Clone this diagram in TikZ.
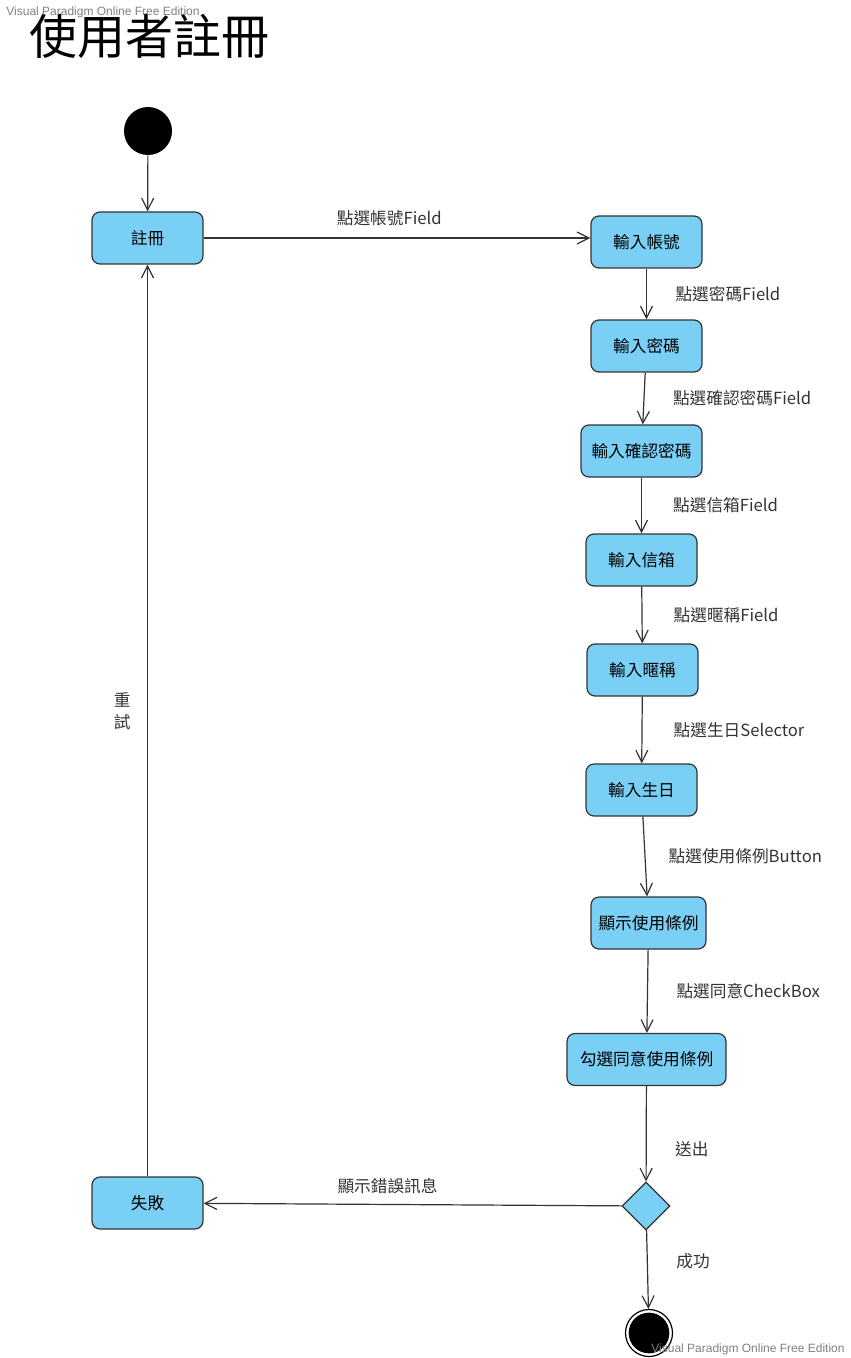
\documentclass[tikz,border=0pt]{standalone}
\usepackage{fontspec}
\setmainfont{Noto Sans CJK TC}
\newfontfamily\wmfont{Liberation Sans}
\usetikzlibrary{arrows.meta, positioning, shapes.geometric}
\definecolor{actfill}{RGB}{122,207,245}
\definecolor{actline}{RGB}{51,51,51}
\tikzset{%
	act/.style={draw=actline, fill=actfill, rectangle, rounded corners=6pt,%
		minimum width=83.25pt, minimum height=39pt, inner sep=0pt, line width=0.9pt,%
		font=\fontsize{12.5}{15}\selectfont},
	startdot/.style={circle, fill=black, minimum size=36pt, inner sep=0pt},
	enddot/.style={circle, draw=black, line width=0.9pt, minimum size=35.25pt, inner sep=0pt,%
		path picture={\fill[black] (path picture bounding box.center) circle (15.25pt);}},
	decision/.style={draw=actline, fill=actfill, diamond, minimum size=36pt, inner sep=0pt, line width=0.9pt},
	trans/.style={-{Straight Barb[length=9pt,width=9pt]}, line width=0.9pt, draw=actline},
	lbl/.style={font=\fontsize{12.5}{15}\selectfont, text=actline},
	watermark/.style={font=\wmfont\fontsize{9}{10}\selectfont, text=gray}
}
\begin{document}
\begin{tikzpicture}[x=0.75pt, y=-0.75pt]
	\useasboundingbox (0,0) rectangle (850,1358);

	\node[anchor=west, inner sep=0pt, font=\fontsize{36}{40}\selectfont] (title) at (29,36) {使用者註冊};
	\node[watermark] (wmtop) at (103,12) {Visual Paradigm Online Free Edition};

	\node[startdot] (init) at (148,131) {};
	\node[act] (reg) at (147.5,238) {註冊};
	\node[act] (acct) at (646.5,242) {輸入帳號};
	\node[act] (pwd) at (646.5,346) {輸入密碼};
	\node[act, minimum width=90.75pt] (confirm) at (641.5,451) {輸入確認密碼};
	\node[act] (mail) at (641.5,560) {輸入信箱};
	\node[act] (nick) at (642.5,670) {輸入暱稱};
	\node[act] (birth) at (641.5,790) {輸入生日};
	\node[act, minimum width=86.25pt] (terms) at (648.5,923) {顯示使用條例};
	\node[act, minimum width=119.25pt] (agree) at (646.5,1059.5) {勾選同意使用條例};
	\node[decision] (check) at (646,1206) {};
	\node[act] (fail) at (147.5,1203) {失敗};
	\node[enddot] (done) at (649,1333) {};

	\draw[trans] (init) to (reg);
	\draw[trans] (reg.east) to node[lbl, above=5pt, pos=0.48] {點選帳號Field} (reg.east -| acct.west);
	\draw[trans] (acct) to node[lbl, right=18pt] {點選密碼Field} (pwd);
	\draw[trans] (pwd) to node[lbl, right=18pt] {點選確認密碼Field} (confirm);
	\draw[trans] (confirm) to node[lbl, right=20pt] {點選信箱Field} (mail);
	\draw[trans] (mail) to node[lbl, right=20pt] {點選暱稱Field} (nick);
	\draw[trans] (nick) to node[lbl, right=20pt] {點選生日Selector} (birth);
	\draw[trans] (birth) to node[lbl, right=14pt] {點選使用條例Button} (terms);
	\draw[trans] (terms) to node[lbl, right=18pt] {點選同意CheckBox} (agree);
	\draw[trans] (agree) to node[lbl, right=18pt, pos=0.66] {送出} (check);
	\draw[trans] (check) to node[lbl, right=18pt, pos=0.4] {成功} (done);
	\draw[trans] (check) to node[lbl, above=4pt, pos=0.56] {顯示錯誤訊息} (fail);
	\draw[trans] (fail) to node[lbl, left=9pt, pos=0.51, align=center, font=\fontsize{12.5}{16.5}\selectfont] {重\\試} (reg);

	\node[watermark] (wmbottom) at (748,1349) {Visual Paradigm Online Free Edition};
\end{tikzpicture}
\end{document}
